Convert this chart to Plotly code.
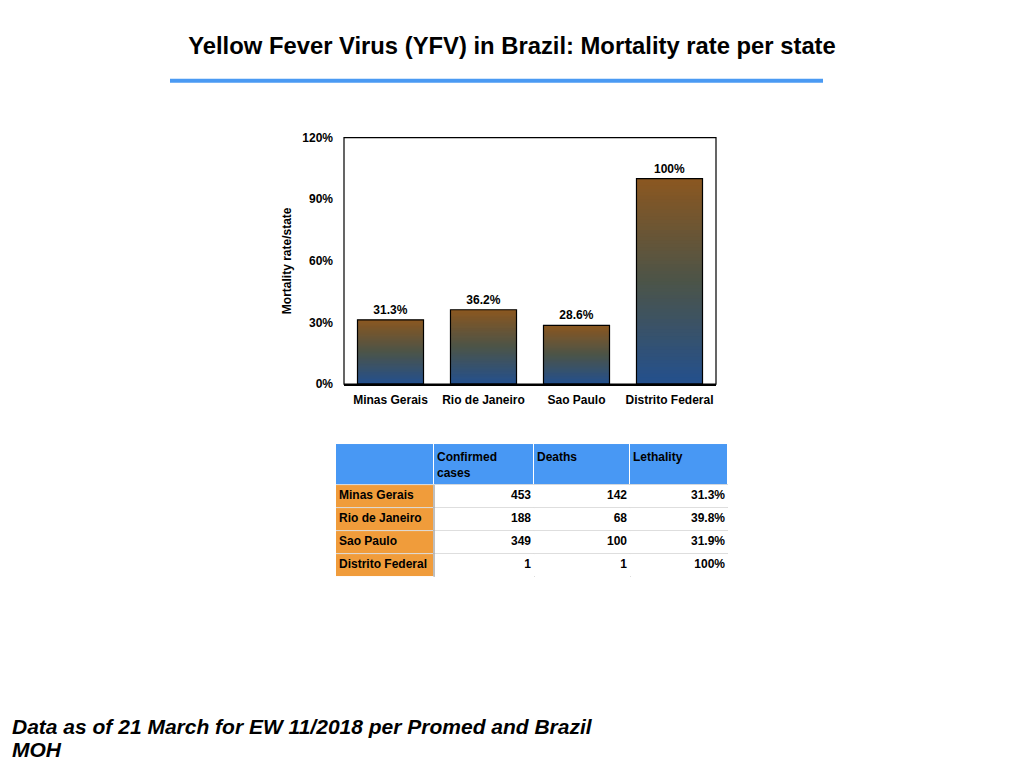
import plotly.graph_objects as go

# chart data
states = ["Minas Gerais", "Rio de Janeiro", "Sao Paulo", "Distrito Federal"]
mortality = [0.313, 0.362, 0.286, 1.0]
mortality_labels = ["31.3%", "36.2%", "28.6%", "100%"]

# table data
table_header = ["", "Confirmed<br>cases", "Deaths", "Lethality"]
confirmed = [453, 188, 349, 1]
deaths = [142, 68, 100, 1]
lethality = ["31.3%", "39.8%", "31.9%", "100%"]

y_ticks = [0, 0.3, 0.6, 0.9, 1.2]

footer_lines = ["Data as of 21 March for EW 11/2018 per Promed and Brazil", "MOH"]

FONT = "Liberation Sans"
N_STEPS = 60

# page has an 8px body margin, so the figure is shrunk and shifted
W, H, OFF = 1008, 752, 8
def px(x):
    return (x - OFF) / W
def py_box(y):
    return 1 - (y - OFF) / H
def py(y):
    # paper area comes out slightly squashed vertically, correct for it
    return py_box((y - 6.4) / 0.983)

# table grid in pixels (column widths, header + row heights)
col_w = [98, 100, 96, 98]
row_h = [41, 23, 23, 23, 23]
col_edges = [sum(col_w[:i]) for i in range(len(col_w) + 1)]
row_edges = [sum(row_h[:i]) for i in range(len(row_h) + 1)]

# bottom blue -> middle olive grey -> top brown
def grad_colour(t):
    stops = [(0.0, (35, 80, 142)), (0.5, (76, 84, 72)), (1.0, (139, 87, 32))]
    for (t0, c0), (t1, c1) in zip(stops[:-1], stops[1:]):
        if t <= t1:
            f = (t - t0) / (t1 - t0)
            c = [round(a + (b - a) * f) for a, b in zip(c0, c1)]
            return f"rgb({c[0]},{c[1]},{c[2]})"
    return "rgb(139,87,32)"

fig = go.Figure()

# gradient: overlapping bars, tallest first, each a bit shorter and bluer
for i in range(N_STEPS):
    frac = (N_STEPS - i) / N_STEPS
    fig.add_trace(go.Bar(
        x=states,
        y=[v * frac for v in mortality],
        marker=dict(color=grad_colour(frac - 0.5 / N_STEPS), line=dict(width=0)),
        hoverinfo="skip",
        showlegend=False,
    ))

# outline + labels
fig.add_trace(go.Bar(
    x=states,
    y=mortality,
    marker=dict(color="rgba(0,0,0,0)", line=dict(color="black", width=1.2)),
    text=mortality_labels,
    textposition="outside",
    textfont=dict(family=FONT, size=12, color="black", weight="bold"),
    cliponaxis=False,
    showlegend=False,
))

# ---- table, drawn on its own axes ----
# 0 = header (blue), 1 = row name (orange), 2 = plain cell
kinds = [[0] * 4] + [[1, 2, 2, 2] for _ in states]
fig.add_trace(go.Heatmap(
    x=col_edges, y=row_edges, z=kinds,
    zmin=0, zmax=2,
    colorscale=[[0, "#4898f4"], [0.33, "#4898f4"], [0.33, "#f09c3b"],
                [0.67, "#f09c3b"], [0.67, "white"], [1, "white"]],
    xgap=1, ygap=1, showscale=False, hoverinfo="skip",
    xaxis="x2", yaxis="y2",
))

row_mid = [(row_edges[i] + row_edges[i + 1]) / 2 for i in range(1, len(row_edges) - 1)]
tfont = dict(family=FONT, size=12, color="black", weight="bold")

# header labels, top-left of each cell
fig.add_trace(go.Scatter(
    x=[e + 3 for e in col_edges[:-1]], y=[8] * 4,
    text=table_header, mode="text", textposition="bottom right",
    textfont=tfont, hoverinfo="skip", showlegend=False, cliponaxis=False,
    xaxis="x2", yaxis="y2",
))
# row names, left aligned
fig.add_trace(go.Scatter(
    x=[col_edges[0] + 3] * len(states), y=row_mid,
    text=states, mode="text", textposition="middle right",
    textfont=tfont, hoverinfo="skip", showlegend=False, cliponaxis=False,
    xaxis="x2", yaxis="y2",
))
# numbers, right aligned
for j, col in enumerate([confirmed, deaths, lethality], start=1):
    fig.add_trace(go.Scatter(
        x=[col_edges[j + 1] - 3] * len(col), y=row_mid,
        text=[str(v) for v in col], mode="text", textposition="middle left",
        textfont=tfont, hoverinfo="skip", showlegend=False, cliponaxis=False,
        xaxis="x2", yaxis="y2",
    ))

hidden = dict(showticklabels=False, ticks="", zeroline=False, showline=False,
              showgrid=True, gridcolor="#dcdcdc", gridwidth=1)

fig.update_layout(
    width=W,
    height=H,
    margin=dict(l=0, r=0, t=0, b=0),
    paper_bgcolor="white",
    plot_bgcolor="white",
    barmode="overlay",
    bargap=0.29,
    showlegend=False,
    font=dict(family=FONT, color="black"),
    xaxis=dict(
        domain=[px(344), px(716)],
        showline=True, linecolor="black", linewidth=2,
        ticks="", showgrid=False,
        ticklabelstandoff=3,
        tickfont=dict(family=FONT, size=12, weight="bold"),
    ),
    yaxis=dict(
        domain=[py(384), py(137)],
        range=[0, 1.2],
        tickvals=y_ticks,
        tickformat=".0%",
        showline=False,
        ticks="", showgrid=False, zeroline=False,
        ticklabelstandoff=10,
        tickfont=dict(family=FONT, size=12, weight="bold"),
        title=dict(text="Mortality rate/state", standoff=8,
                   font=dict(family=FONT, size=12, weight="bold")),
    ),
    xaxis2=dict(domain=[px(336), px(728)], range=[0, col_edges[-1]],
                anchor="y2", tickvals=col_edges, **hidden),
    yaxis2=dict(domain=[py(577), py(444)], range=[row_edges[-1], 0],
                anchor="x2", tickvals=row_edges, **hidden),
    title=dict(
        text="<b>Yellow Fever Virus (YFV) in Brazil: Mortality rate per state</b>",
        x=px(512), xanchor="center", y=py_box(46), yanchor="middle",
        font=dict(family=FONT, size=23.8, color="black"),
    ),
    shapes=[
        dict(type="line", xref="paper", yref="paper",
             x0=px(170), x1=px(823), y0=py(80), y1=py(80),
             line=dict(color="#4a9af3", width=4)),
        # plot frame (bottom axis is drawn thicker by the x axis line)
        dict(type="rect", xref="x domain", yref="y domain",
             x0=0, x1=1, y0=0, y1=1, line=dict(color="black", width=1.2)),
        # darker divider right of the row names
        dict(type="line", xref="x2", yref="y2",
             x0=col_edges[1], x1=col_edges[1], y0=row_edges[1], y1=row_edges[-1],
             line=dict(color="#a8a8a8", width=1.5)),
    ],
    annotations=[
        dict(text=f"<b><i>{line}</i></b>", xref="paper", yref="paper",
             x=px(10), y=py(y), xanchor="left", yanchor="middle",
             align="left", showarrow=False,
             font=dict(family=FONT, size=21, color="black"))
        for line, y in zip(footer_lines, [727, 750])
    ],
)

fig.write_html("out.html")
